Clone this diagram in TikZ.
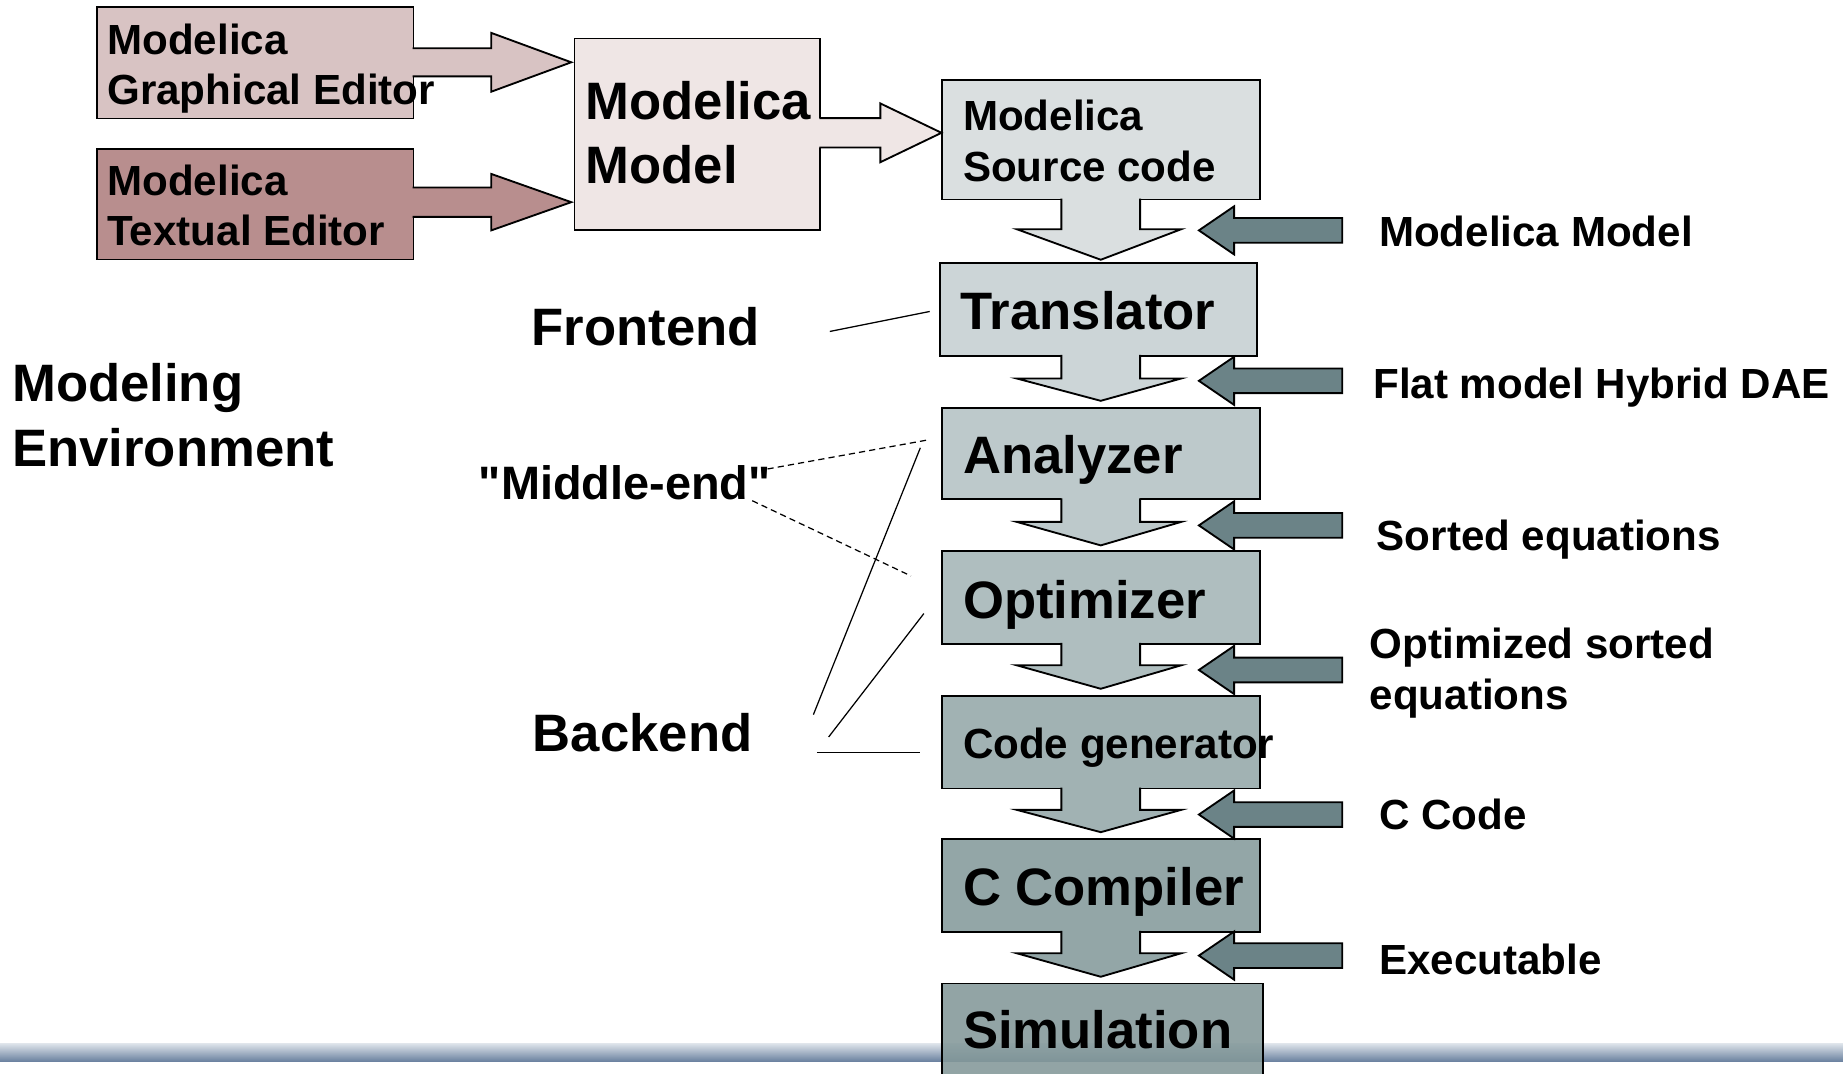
\documentclass[tikz,border=0pt]{standalone}
\usepackage{fontspec}
\setmainfont{Liberation Sans}
\newfontfamily\qfont{Liberation Sans}
\usetikzlibrary{calc}
\definecolor{gec}{HTML}{D8C3C3}
\definecolor{tec}{HTML}{B88E8E}
\definecolor{mmc}{HTML}{EFE6E5}
\definecolor{scc}{HTML}{DADFE0}
\definecolor{trc}{HTML}{CCD5D7}
\definecolor{anc}{HTML}{BDC9CB}
\definecolor{opc}{HTML}{AFBEBF}
\definecolor{cgc}{HTML}{A1B2B3}
\definecolor{ccc}{HTML}{93A6A7}
\definecolor{sic}{HTML}{839899}
\definecolor{sidec}{HTML}{6B8387}
\definecolor{barT}{HTML}{DCE2E9}
\definecolor{barB}{HTML}{6A819F}
\newcommand\fA{\fontsize{25.5}{30.6}\selectfont\bfseries}
\newcommand\fB{\fontsize{20.4}{24.4}\selectfont\bfseries}
\newcommand\fC{\qfont\fontsize{22.7}{27.2}\selectfont\bfseries}
\tikzset{
  box/.style={draw=black, line width=0.9pt, inner sep=0pt, anchor=north west},
  arr/.style={draw=black, line width=0.9pt, line join=miter},
  big/.style={anchor=base west, inner sep=0pt, font=\fA},
  lbl/.style={anchor=base west, inner sep=0pt, font=\fB},
  mid/.style={anchor=base west, inner sep=0pt, font=\fC},
  conn/.style={draw=black, line width=0.6pt},
  dconn/.style={draw=black, line width=0.6pt, dash pattern=on 3pt off 2pt},
}
% right block arrow: fill, x0, xbase, xtip, yc, shaft half, head half
\newcommand\rblk[7]{%
  \fill[#1] ({#2-2},{#5-#6}) -- ({#3},{#5-#6}) -- ({#3},{#5-#7}) -- ({#4},{#5}) -- ({#3},{#5+#7}) -- ({#3},{#5+#6}) -- ({#2-2},{#5+#6}) -- cycle;
  \draw[arr] ({#2},{#5-#6}) -- ({#3},{#5-#6}) -- ({#3},{#5-#7}) -- ({#4},{#5}) -- ({#3},{#5+#7}) -- ({#3},{#5+#6}) -- ({#2},{#5+#6});}
% down block arrow: fill, top y, head top y, tip y
\newcommand\dblk[4]{%
  \fill[#1] (903,{#2-2}) -- (903,{#3}) -- (865,{#3}) -- (936.5,{#4}) -- (1005,{#3}) -- (970,{#3}) -- (970,{#2-2}) -- cycle;
  \draw[arr] (903,{#2}) -- (903,{#3}) -- (865,{#3}) -- (936.5,{#4}) -- (1005,{#3}) -- (970,{#3}) -- (970,{#2});}
% left block arrow (side input): centre y
\newcommand\lblk[1]{%
  \filldraw[arr, fill=sidec] (1142,{#1-10.5}) -- (1050,{#1-10.5}) -- (1050,{#1-20.5}) -- (1020,{#1}) -- (1050,{#1+20.5}) -- (1050,{#1+10.5}) -- (1142,{#1+10.5}) -- cycle;}
\begin{document}
\begin{tikzpicture}[x=0.02cm,y=-0.02cm]
\useasboundingbox (0,0) rectangle (1568,913);
\fill[white] (0,0) rectangle (1568,913);
% bottom bar
\shade[top color=barT, bottom color=barB] (0,888) rectangle (1568,903);
% boxes
\node[box, fill=gec, minimum width=5.38cm, minimum height=1.90cm] (GE) at (82,5) {};
\node[box, fill=tec, minimum width=5.38cm, minimum height=1.88cm] (TE) at (82,126) {};
\node[box, fill=mmc, minimum width=4.18cm, minimum height=3.26cm] (MM) at (488,32) {};
\node[box, fill=scc, minimum width=5.40cm, minimum height=2.04cm] (SC) at (801,67) {};
\node[box, fill=trc, minimum width=5.40cm, minimum height=1.58cm] (TR) at (799,223) {};
\node[box, fill=anc, minimum width=5.40cm, minimum height=1.56cm] (AN) at (801,346) {};
\node[box, fill=opc, minimum width=5.40cm, minimum height=1.58cm] (OP) at (801,468) {};
\node[box, fill=cgc, minimum width=5.40cm, minimum height=1.58cm] (CG) at (801,591) {};
\node[box, fill=ccc, minimum width=5.40cm, minimum height=1.58cm] (CC) at (801,713) {};
\node[box, fill=sic, fill opacity=0.88, minimum width=5.46cm, minimum height=1.90cm] (SI) at (801,836) {};
% block arrows
\rblk{gec}{351}{418}{486}{53}{12}{25}
\rblk{tec}{351}{418}{486}{172}{12.5}{24}
\rblk{mmc}{697}{749}{801}{113}{12.5}{25}
\dblk{scc}{169}{195}{221}
\dblk{trc}{302}{322}{341}
\dblk{anc}{424}{444}{464}
\dblk{opc}{547}{566}{586}
\dblk{cgc}{670}{689}{708}
\dblk{ccc}{792}{811}{831}
\lblk{196}
\lblk{324}
\lblk{447}
\lblk{570}
\lblk{693}
\lblk{813}
% box texts
\node[lbl] (ge1) at (91,46) {Modelica};
\node[lbl] (ge2) at (91,89) {Graphical Editor};
\node[lbl] (te1) at (91,166) {Modelica};
\node[lbl] (te2) at (91,209) {Textual Editor};
\node[big] (mm1) at (498,102) {Modelica};
\node[big] (mm2) at (498,156) {Model};
\node[lbl] (sc1) at (819,111) {Modelica};
\node[lbl] (sc2) at (819,154) {Source code};
\node[big] (trt) at (817,280) {Translator};
\node[big] (ant) at (819,403) {Analyzer};
\node[big] (opt) at (819,526) {Optimizer};
\node[lbl] (cgt) at (819,645) {Code generator};
\node[big] (cct) at (819,770) {C Compiler};
\node[big] (sit) at (819,892) {Simulation};
% right labels
\node[lbl] (r1) at (1173,210) {Modelica Model};
\node[lbl] (r2) at (1168,339) {Flat model Hybrid DAE};
\node[lbl] (r3) at (1171,468) {Sorted equations};
\node[lbl] (r4a) at (1165,560) {Optimized sorted};
\node[lbl] (r4b) at (1165,604) {equations};
\node[lbl] (r5) at (1173,706) {C Code};
\node[lbl] (r6) at (1173,829) {Executable};
% left labels
\node[big] (me1) at (10,342) {Modeling};
\node[big] (me2) at (10,397) {Environment};
\node[big] (fe) at (452,294) {Frontend};
\node[mid] (mid) at (407,425) {"Middle-end"};
\node[big] (be) at (453,639) {Backend};
% pointer lines
\coordinate (feA) at (706,282); \coordinate (feB) at (791,265);
\coordinate (mdA) at (653,399); \coordinate (mdB) at (791,374);
\coordinate (mdC) at (640,426); \coordinate (mdD) at (775,490);
\coordinate (beA) at (692,608); \coordinate (beB) at (783,381);
\coordinate (beC) at (705,627); \coordinate (beD) at (786,522);
\coordinate (beE) at (695,640); \coordinate (beF) at (783,640);
\draw[conn] (feA) -- (feB);
\draw[dconn] (mdA) -- (mdB);
\draw[dconn] (mdC) -- (mdD);
\draw[conn] (beA) -- (beB);
\draw[conn] (beC) -- (beD);
\draw[conn] (beE) -- (beF);
\end{tikzpicture}
\end{document}
